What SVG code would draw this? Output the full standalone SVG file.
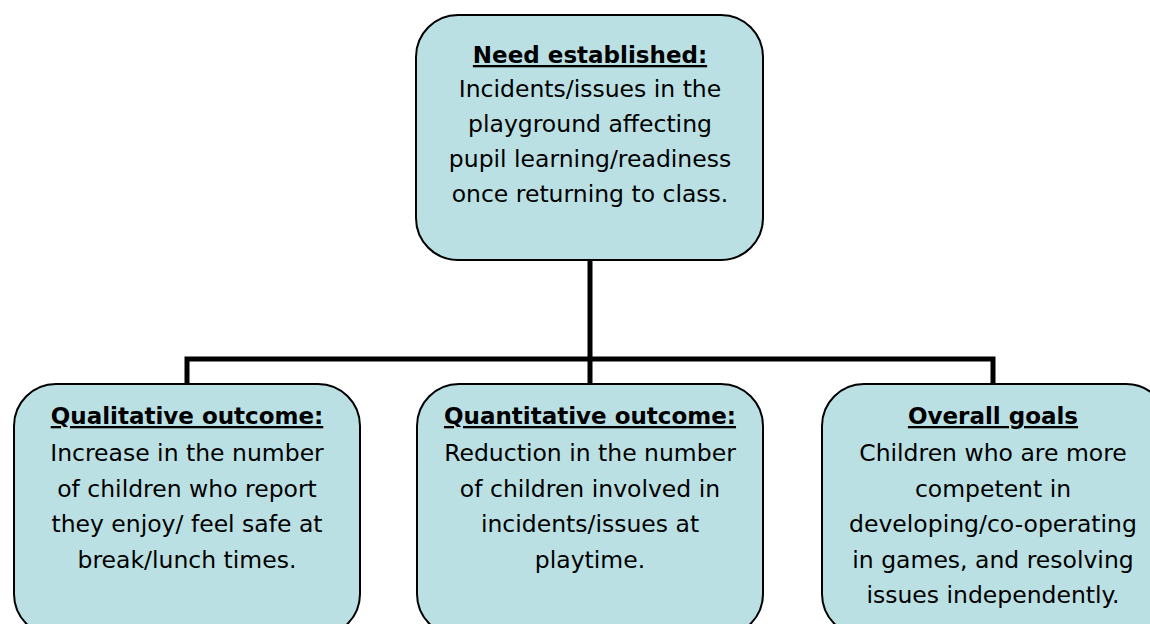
<svg xmlns="http://www.w3.org/2000/svg" width="1150" height="624" viewBox="0 0 1150 624">
<style>
.box{fill:#bbe0e3;stroke:#000;stroke-width:2}
.conn{fill:none;stroke:#000;stroke-width:5}
text{font-family:"DejaVu Sans",sans-serif;font-size:23.5px;fill:#000;text-anchor:middle}
.t{font-weight:bold;font-size:23px;text-decoration:underline}
</style>
<rect width="1150" height="624" fill="#fff"/>
<g id="connectors">
<path class="conn" d="M590 260V359M187 384V359H993V384M590 359V384"/>
</g>
<g id="need">
<rect class="box" x="416" y="15" width="347" height="245" rx="42"/>
<text x="590" y="63" class="t">Need established:</text>
<text x="590" y="97">Incidents/issues in the</text>
<text x="590" y="132">playground affecting</text>
<text x="590" y="167">pupil learning/readiness</text>
<text x="590" y="202">once returning to class.</text>
</g>
<g id="qualitative">
<rect class="box" x="14" y="384" width="346" height="252" rx="42"/>
<text x="187" y="424" class="t">Qualitative outcome:</text>
<text x="187" y="461">Increase in the number</text>
<text x="187" y="497">of children who report</text>
<text x="187" y="532">they enjoy/ feel safe at</text>
<text x="187" y="568">break/lunch times.</text>
</g>
<g id="quantitative">
<rect class="box" x="417" y="384" width="346" height="252" rx="42"/>
<text x="590" y="424" class="t">Quantitative outcome:</text>
<text x="590" y="461">Reduction in the number</text>
<text x="590" y="497">of children involved in</text>
<text x="590" y="532">incidents/issues at</text>
<text x="590" y="568">playtime.</text>
</g>
<g id="goals">
<rect class="box" x="822" y="384" width="346" height="252" rx="42"/>
<text x="993" y="424" class="t">Overall goals</text>
<text x="993" y="461">Children who are more</text>
<text x="993" y="497">competent in</text>
<text x="993" y="532">developing/co-operating</text>
<text x="993" y="568">in games, and resolving</text>
<text x="993" y="603">issues independently.</text>
</g>
</svg>
